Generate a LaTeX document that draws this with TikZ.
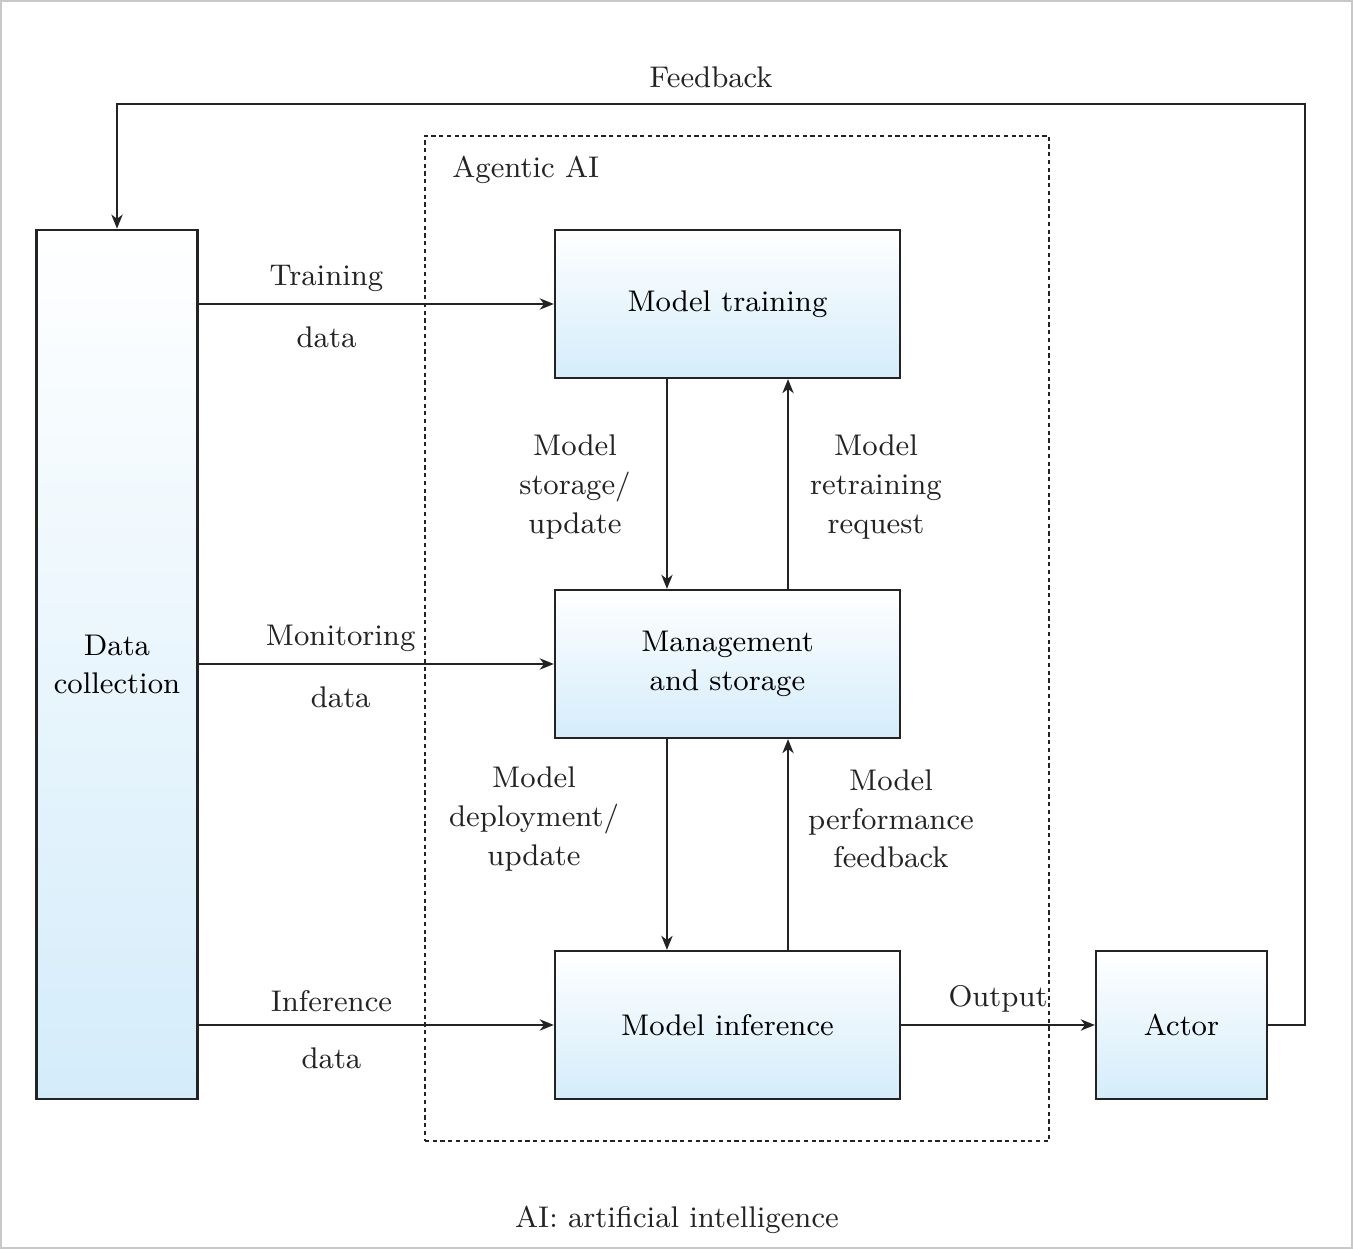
\documentclass[tikz,border=0pt]{standalone}
\usetikzlibrary{positioning,arrows.meta}
\definecolor{AILine}{RGB}{35,35,35}
\definecolor{AIBlue}{RGB}{212,236,250}
\definecolor{AIFrame}{RGB}{200,200,200}

\begin{document}
\begin{tikzpicture}[x=0.01cm,y=-0.01cm,
font=\fontsize{8.5}{11}\selectfont,
box/.style={rectangle,draw=AILine,line width=0.6pt,top color=white,bottom color=AIBlue,
minimum width=3.45cm,minimum height=1.48cm,align=center},
arrow/.style={-{Stealth[length=4pt,width=3.2pt,inset=1.2pt]},line width=0.6pt,draw=AILine},
txt/.style={align=center,text=AILine}
]
\useasboundingbox (0,0) rectangle (1353,1249);
\draw[AIFrame,line width=0.6pt] (1,1) rectangle (1352,1248);

\node[draw=AILine,line width=0.5pt,dash pattern=on 1.2pt off 1pt,minimum width=6.24cm,minimum height=10.05cm] (agentic) at (737,638.5) {};
\node[txt,anchor=west] (agtitle) at (440,170) {Agentic AI};

\node[box,minimum width=1.61cm,minimum height=8.69cm] (datacol) at (117,664.5) {Data\\collection};
\node[box] (train) at (727.5,304) {Model training};
\node[box] (mgmt) at (727.5,664) {Management\\and storage};
\node[box] (infer) at (727.5,1025) {Model inference};
\node[box,minimum width=1.71cm] (actor) at (1181.5,1025) {Actor};
\coordinate (fbk) at (1305,104);

\draw[arrow] (datacol.east |- train) -- node[txt,pos=0.36,above]{Training} node[txt,pos=0.36,below=1mm]{data} (train.west);
\draw[arrow] (datacol.east |- mgmt) -- node[txt,pos=0.40,above]{Monitoring} node[txt,pos=0.40,below=1mm]{data} (mgmt.west);
\draw[arrow] (datacol.east |- infer) -- node[txt,pos=0.374,above]{Inference} node[txt,pos=0.374,below=1mm]{data} (infer.west);

\draw[arrow] ([xshift=-0.605cm]train.south) -- ([xshift=-0.605cm]mgmt.north);
\draw[arrow] ([xshift=0.605cm]mgmt.north) -- ([xshift=0.605cm]train.south);
\draw[arrow] ([xshift=-0.605cm]mgmt.south) -- ([xshift=-0.605cm]infer.north);
\draw[arrow] ([xshift=0.605cm]infer.north) -- ([xshift=0.605cm]mgmt.south);

\node[txt] (storlbl) at (575,487) {Model\\storage/\\update};
\node[txt] (retrlbl) at (876,487) {Model\\retraining\\request};
\node[txt] (deplbl) at (534,819) {Model\\deployment/\\update};
\node[txt] (perflbl) at (891,819) {Model\\performance\\feedback};

\draw[arrow] (infer.east) -- node[txt,above]{Output} (actor.west);
\draw[arrow] (actor.east) -| (fbk) -| node[txt,pos=0.25,above=0.3mm]{Feedback} (datacol.north);

\node[txt] (note) at (677,1220) {AI: artificial intelligence};
\end{tikzpicture}
\end{document}
